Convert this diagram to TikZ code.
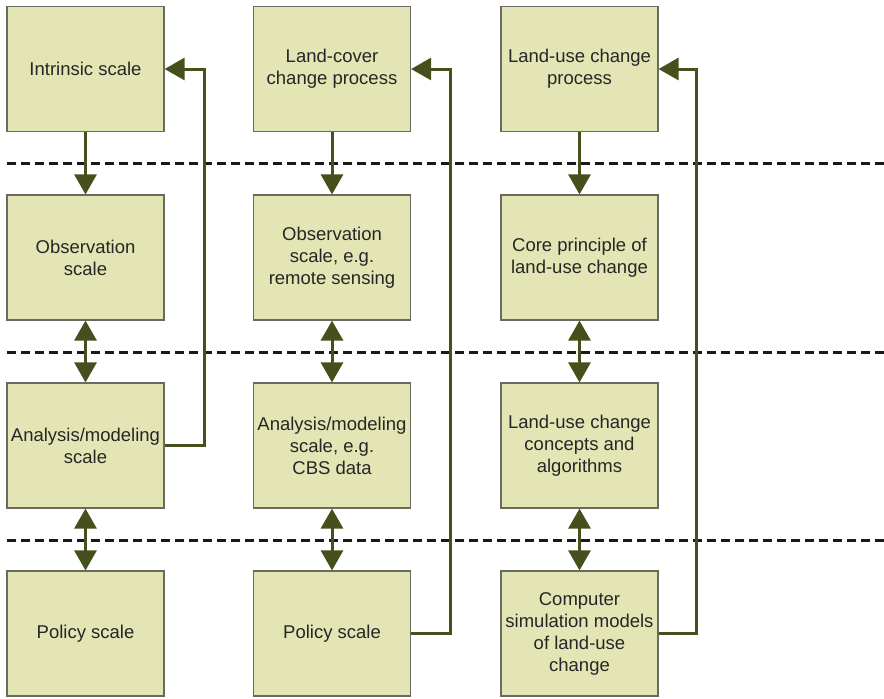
\documentclass[tikz,border=0pt]{standalone}
\usepackage{fontspec}
\setmainfont{Liberation Sans}
\usetikzlibrary{arrows.meta}
\definecolor{boxfill}{HTML}{E3E5B5}
\definecolor{boxline}{HTML}{6A6A60}
\definecolor{olivearrow}{HTML}{474F1C}
\tikzset{
  scalebox/.style={draw=boxline, fill=boxfill, line width=0.6pt,
    minimum width=78.5pt, minimum height=62.5pt, inner sep=1pt,
    align=center, text=black!85, font=\fontsize{9.25}{11}\selectfont},
  flowline/.style={draw=olivearrow, line width=1.5pt},
  onetip/.style={-{Triangle[length=10pt,width=11pt]}},
  twotip/.style={{Triangle[length=10pt,width=11pt]}-{Triangle[length=10pt,width=11pt]}},
  divider/.style={line width=1.5pt, dash pattern=on 4.5pt off 2.5pt, black!90}
}
\begin{document}
\begin{tikzpicture}[x=0.5pt,y=-0.5pt]
\useasboundingbox (0,0) rectangle (884,698);
% level separators
\draw[divider] (7,163)--(884,163);
\draw[divider] (7,352)--(884,352);
\draw[divider] (7,540)--(884,540);
% first column
\node[scalebox] (intr) at (85.5,69) {Intrinsic scale};
\node[scalebox] (obs1) at (85.5,257.5) {Observation\\scale};
\node[scalebox] (ana1) at (85.5,445.5) {Analysis/modeling\\scale};
\node[scalebox] (pol1) at (85.5,633.5) {Policy scale};
% second column
\node[scalebox] (lcc) at (332,69) {Land-cover\\change process};
\node[scalebox] (obs2) at (332,257.5) {Observation\\scale, e.g.\\remote sensing};
\node[scalebox] (ana2) at (332,445.5) {Analysis/modeling\\scale, e.g.\\CBS data};
\node[scalebox] (pol2) at (332,633.5) {Policy scale};
% third column
\node[scalebox] (luc) at (579.5,69) {Land-use change\\process};
\node[scalebox] (core) at (579.5,257.5) {Core principle of\\land-use change};
\node[scalebox] (conc) at (579.5,445.5) {Land-use change\\concepts and\\algorithms};
\node[scalebox] (sim) at (579.5,633.5) {Computer\\simulation models\\of land-use\\change};
% arrows down the columns
\draw[flowline,onetip] (intr)--(obs1);
\draw[flowline,twotip] (obs1)--(ana1);
\draw[flowline,twotip] (ana1)--(pol1);
\draw[flowline,onetip] (lcc)--(obs2);
\draw[flowline,twotip] (obs2)--(ana2);
\draw[flowline,twotip] (ana2)--(pol2);
\draw[flowline,onetip] (luc)--(core);
\draw[flowline,twotip] (core)--(conc);
\draw[flowline,twotip] (conc)--(sim);
% feedback lines
\draw[flowline,onetip] (ana1.east)--(204,445.5)|-(intr.east);
\draw[flowline,onetip] (pol2.east)--(450,633.5)|-(lcc.east);
\draw[flowline,onetip] (sim.east)--(696,633.5)|-(luc.east);
\end{tikzpicture}
\end{document}
